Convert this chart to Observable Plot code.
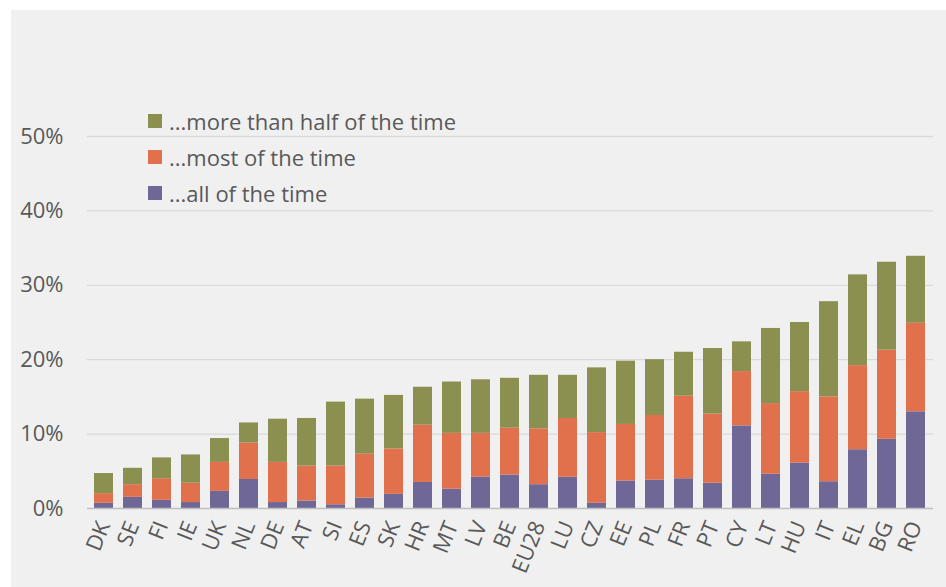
<!DOCTYPE html>
<html>
<head>
<meta charset="utf-8">
<script src="https://cdn.jsdelivr.net/npm/d3@7"></script>
<script src="https://cdn.jsdelivr.net/npm/@observablehq/plot@0.6"></script>
<style>
  html, body { margin: 0; padding: 0; background: #ffffff; }
  #frame { position: absolute; left: 11px; top: 10px; width: 935px; height: 577px; background: #f0f0f0; overflow: hidden; }
  #frame svg { display: block; max-width: none !important; }
  #legend { position: absolute; left: 137px; top: 93px; font-family: "Open Sans", sans-serif; font-size: 22px; color: #595959; }
  .item { display: flex; align-items: center; height: 36px; }
  .sw { width: 14px; height: 14px; margin-right: 7px; }
</style>
</head>
<body>
<div id="frame">
  <div id="legend"></div>
</div>
<script>
const countries = ["DK","SE","FI","IE","UK","NL","DE","AT","SI","ES","SK","HR","MT","LV","BE","EU28","LU","CZ","EE","PL","FR","PT","CY","LT","HU","IT","EL","BG","RO"];
// segment values (percent)
const allTime   = [0.7,1.5,1.1,0.8,2.3,3.9,0.8,1.0,0.5,1.4,1.9,3.5,2.6,4.2,4.5,3.2,4.2,0.7,3.7,3.8,4.0,3.4,11.1,4.6,6.1,3.6,7.9,9.3,13.0];
const mostTime  = [1.3,1.7,2.9,2.6,3.9,4.9,5.4,4.7,5.2,5.9,6.1,7.7,7.5,5.9,6.3,7.5,7.9,9.5,7.6,8.7,11.1,9.3,7.3,9.5,9.6,11.4,11.3,12.0,11.9];
const halfTime  = [2.7,2.2,2.8,3.8,3.2,2.7,5.8,6.4,8.6,7.4,7.2,5.1,6.9,7.2,6.7,7.2,5.8,8.7,8.5,7.5,5.9,8.8,4.0,10.1,9.3,12.8,12.2,11.8,9.0];
const seriesNames = ["...all of the time","...most of the time","...more than half of the time"];
const seriesColors = ["#6f6896","#e0714c","#8b8f50"];
const yTicks = [0,0.1,0.2,0.3,0.4,0.5];

const rows = [];
countries.forEach((c, i) => {
  rows.push({country: c, series: seriesNames[0], value: allTime[i] / 100});
  rows.push({country: c, series: seriesNames[1], value: mostTime[i] / 100});
  rows.push({country: c, series: seriesNames[2], value: halfTime[i] / 100});
});

const chart = Plot.plot({
  width: 935,
  height: 577,
  marginLeft: 76,
  marginRight: 13,
  marginTop: 126,
  marginBottom: 79,
  style: {background: "#f0f0f0", fontFamily: "'Open Sans', sans-serif", fontSize: "22px", color: "#595959"},
  x: {domain: countries, range: [76, 922], paddingInner: 0.33, paddingOuter: 0.16, label: null, tickSize: 0, tickPadding: 14, tickRotate: -68},
  y: {domain: [0, 0.5], ticks: yTicks, tickFormat: d3.format(".0%"), label: null, tickSize: 0, tickPadding: 24},
  color: {domain: seriesNames, range: seriesColors},
  marks: [
    Plot.ruleY(yTicks.slice(1), {stroke: "#d9d9d9", strokeWidth: 1.3}),
    Plot.barY(rows, {x: "country", y: "value", fill: "series", order: seriesNames}),
    Plot.ruleY([0], {stroke: "#bfbfbf", strokeWidth: 1.5})
  ]
});
document.getElementById("frame").insertBefore(chart, document.getElementById("legend"));

const legend = document.getElementById("legend");
[2, 1, 0].forEach(k => {
  const item = document.createElement("div");
  item.className = "item";
  const sw = document.createElement("div");
  sw.className = "sw";
  sw.style.background = seriesColors[k];
  const t = document.createElement("span");
  t.textContent = seriesNames[k];
  item.appendChild(sw);
  item.appendChild(t);
  legend.appendChild(item);
});
</script>
</body>
</html>
